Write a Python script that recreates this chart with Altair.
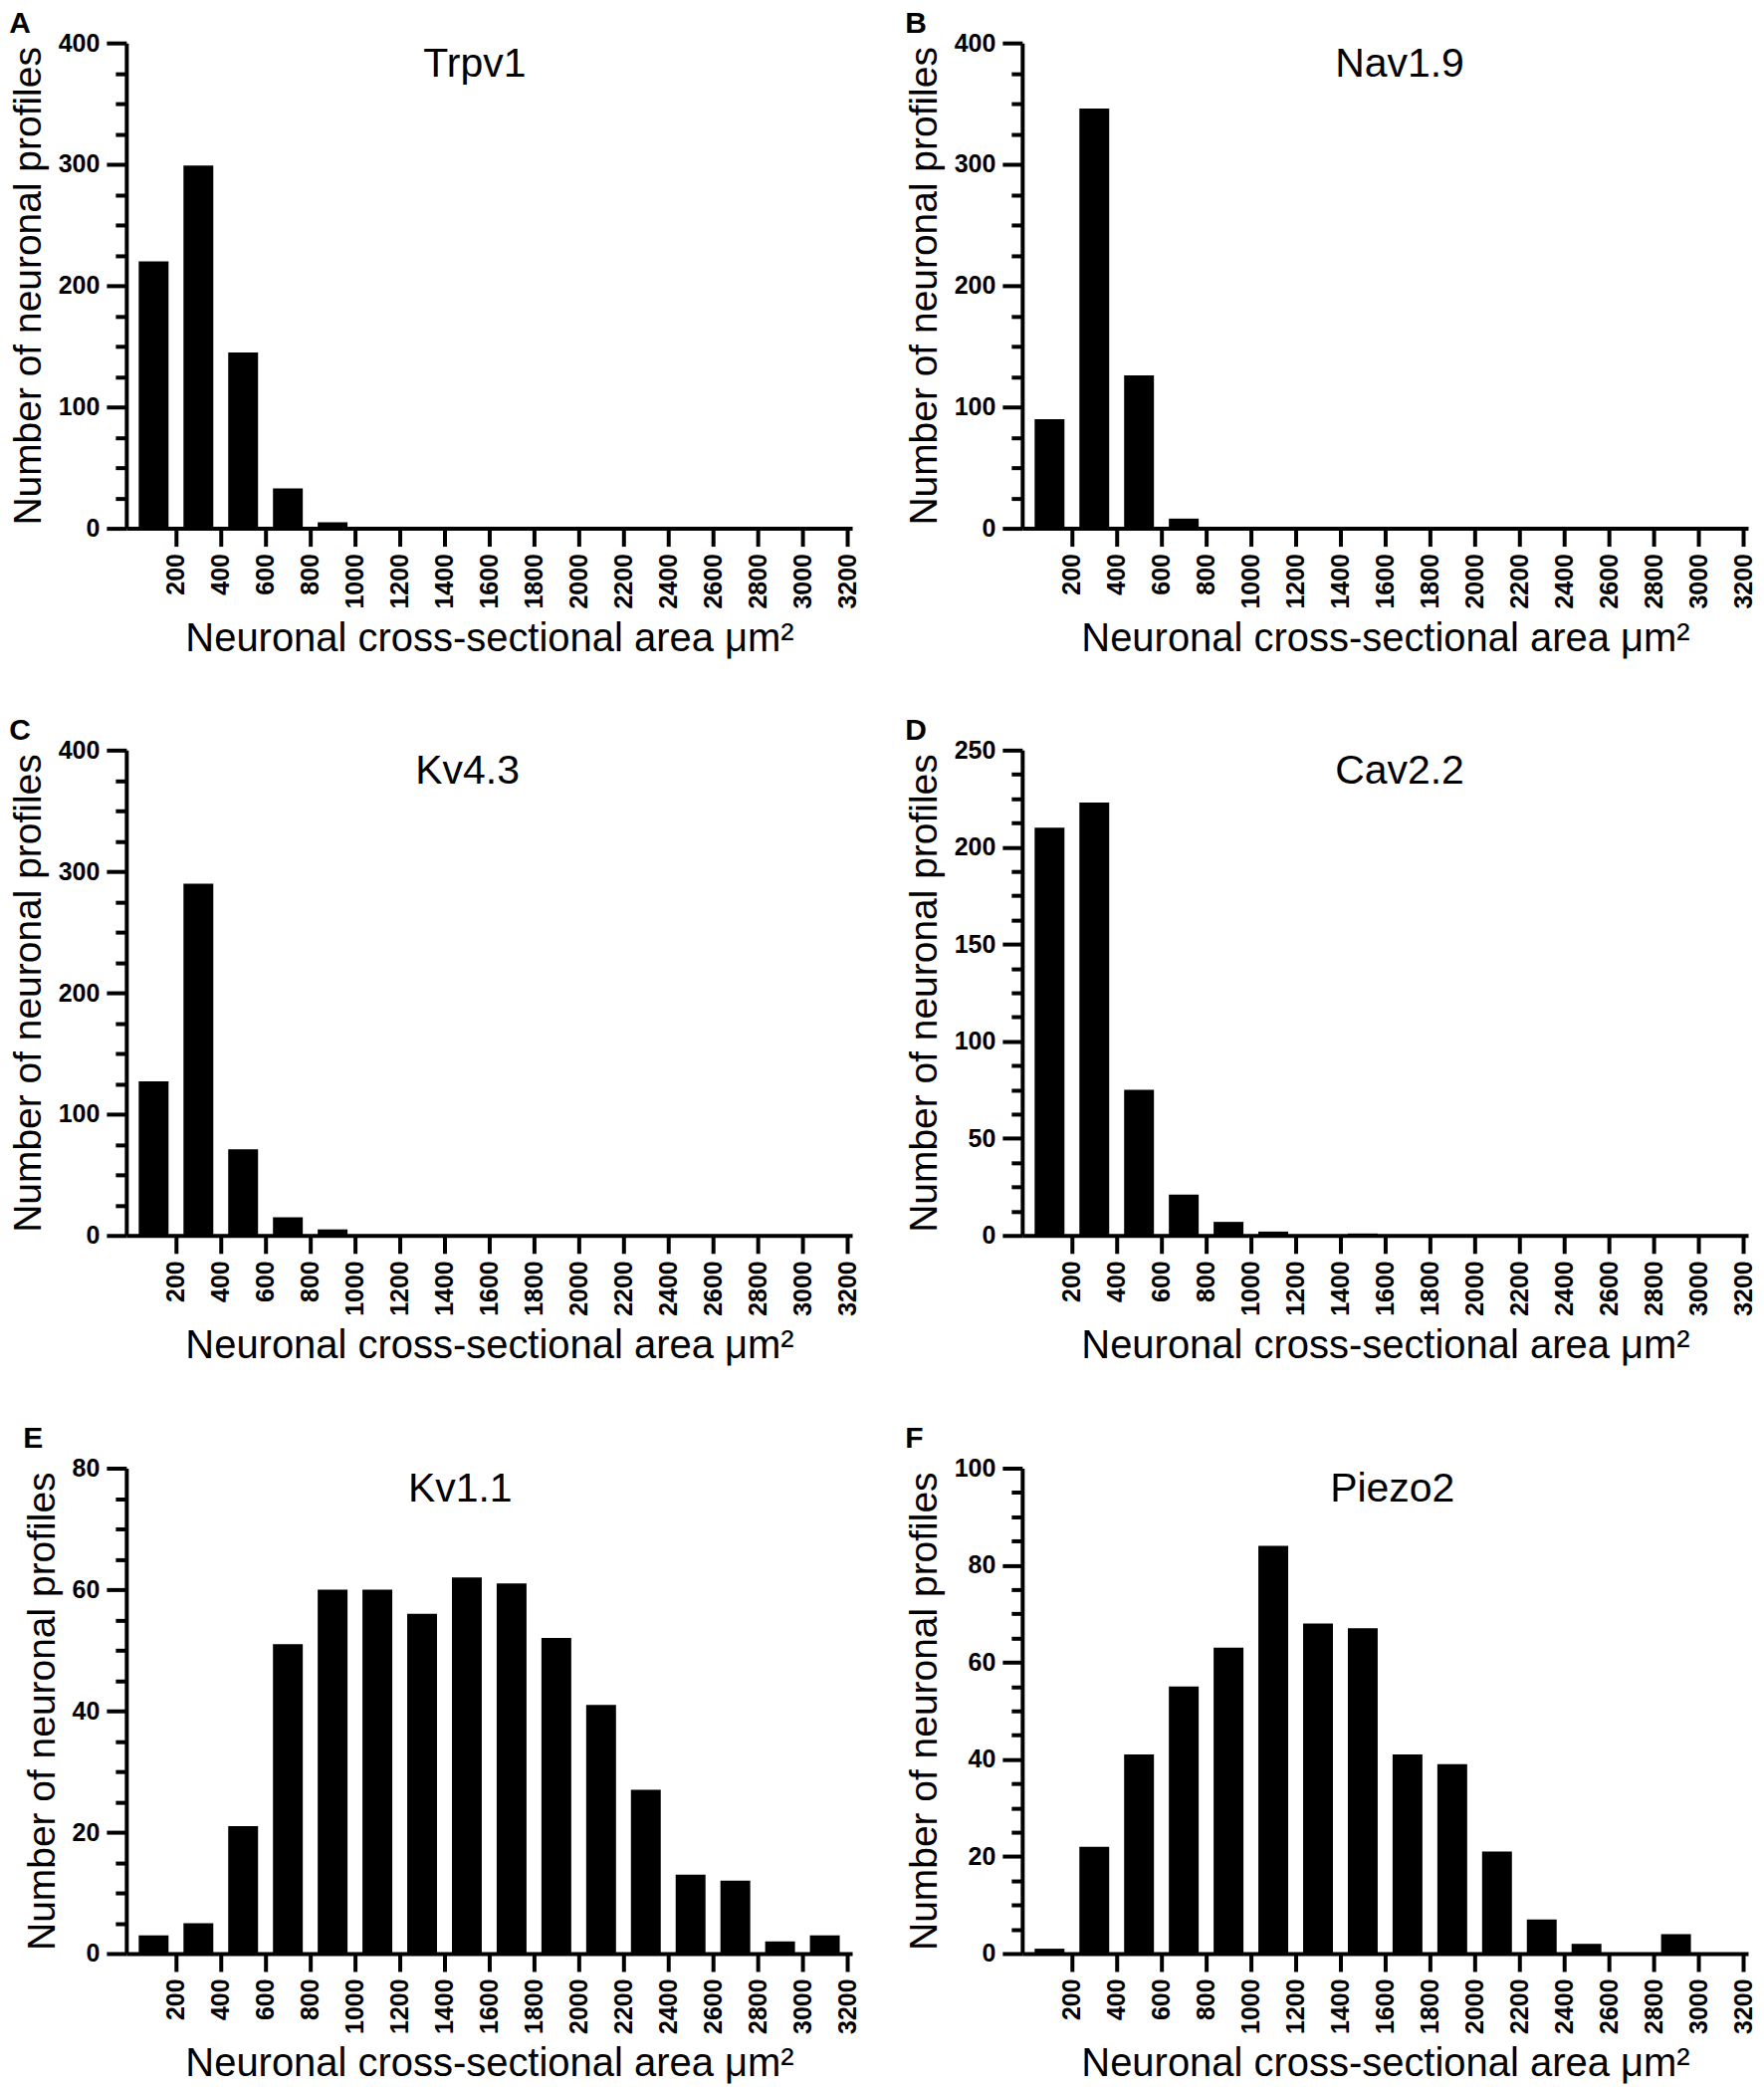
import altair as alt
import pandas as pd

# ---------------- data ----------------
BIN_LO = [0, 200, 400, 600, 800, 1000, 1200, 1400, 1600, 1800, 2000, 2200, 2400, 2600, 2800, 3000]
BIN_HI = [200, 400, 600, 800, 1000, 1200, 1400, 1600, 1800, 2000, 2200, 2400, 2600, 2800, 3000, 3200]
X_TICKS = [200, 400, 600, 800, 1000, 1200, 1400, 1600, 1800, 2000, 2200, 2400, 2600, 2800, 3000, 3200]

TRPV1 = [220, 299, 145, 33, 5, 0, 0, 0, 0, 0, 0, 0, 0, 0, 0, 0]
NAV19 = [90, 346, 126, 8, 0, 0, 0, 0, 0, 0, 0, 0, 0, 0, 0, 0]
KV43 = [127, 290, 71, 15, 5, 0, 0, 0, 0, 0, 0, 0, 0, 0, 0, 0]
CAV22 = [210, 223, 75, 21, 7, 2, 0, 1, 0, 0, 0, 0, 0, 0, 0, 0]
KV11 = [3, 5, 21, 51, 60, 60, 56, 62, 61, 52, 41, 27, 13, 12, 2, 3]
PIEZO2 = [1, 22, 41, 55, 63, 84, 68, 67, 41, 39, 21, 7, 2, 0, 4, 0]

LETTERS = ["A", "B", "C", "D", "E", "F"]
NAMES = ["Trpv1", "Nav1.9", "Kv4.3", "Cav2.2", "Kv1.1", "Piezo2"]
SERIES = [TRPV1, NAV19, KV43, CAV22, KV11, PIEZO2]
Y_MAX = [400, 400, 400, 250, 80, 100]
Y_MAJOR = [100, 100, 100, 50, 20, 20]
Y_MINOR = [25, 25, 25, 12.5, 5, 5]
NAME_POS = [0.48, 0.52, 0.47, 0.52, 0.46, 0.51]
LETTER_OFFSET = [-8, -8, -8, -8, 3, 3]

X_TITLE = "Neuronal cross-sectional area \u03bcm\u00b2"
Y_TITLE = "Number of neuronal profiles"

W = 730
H = 488
FONT = "Liberation Sans"


def panel(letter, name, counts, ymax, major, minor, npos, loff):
    df = pd.DataFrame({"lo": BIN_LO, "hi": BIN_HI, "count": counts})
    n = int(round(ymax / minor))
    yvals = [minor * i for i in range(n + 1)]
    bars = (
        alt.Chart(df)
        .transform_calculate(mid="(datum.lo + datum.hi) / 2")
        .mark_bar(color="black", size=30)
        .encode(
            x=alt.X(
                "mid:Q",
                scale=alt.Scale(domain=[0, 3200], nice=False, zero=True),
                axis=alt.Axis(
                    values=X_TICKS,
                    title=X_TITLE,
                    labelAngle=270,
                    tickSize=18,
                    labelPadding=7,
                    titlePadding=10,
                    labelOverlap=False,
                    labelFlush=False,
                    format="d",
                ),
            ),
            y=alt.Y(
                "count:Q",
                scale=alt.Scale(domain=[0, ymax], nice=False),
                axis=alt.Axis(
                    values=yvals,
                    title=Y_TITLE,
                    titleFontSize=39,
                    labelExpr=f"datum.value % {major} === 0 ? format(datum.value, 'd') : ''",
                    tickSize={"condition": {"test": f"datum.value % {major} === 0", "value": 20}, "value": 11},
                    labelPadding=7,
                    titlePadding=10,
                    labelOverlap=False,
                    labelFlush=False,
                ),
            ),
        )
    )
    label = (
        alt.Chart(pd.DataFrame({"t": [name]}))
        .mark_text(font=FONT, fontSize=41, color="black", baseline="alphabetic", align="center")
        .encode(text="t:N", x=alt.value(W * npos), y=alt.value(34))
    )
    return alt.layer(bars, label).properties(
        width=W,
        height=H,
        title=alt.TitleParams(
            letter,
            anchor="start",
            frame="bounds",
            fontSize=30,
            fontWeight="bold",
            font=FONT,
            color="black",
            offset=loff,
        ),
    )


panels = [
    panel(LETTERS[i], NAMES[i], SERIES[i], Y_MAX[i], Y_MAJOR[i], Y_MINOR[i], NAME_POS[i], LETTER_OFFSET[i])
    for i in range(6)
]

chart = (
    alt.concat(*panels, columns=2, spacing=alt.RowColnumber(row=58, column=45))
    .properties(padding={"left": 1, "top": 0, "right": 0, "bottom": 0})
    .configure_view(stroke=None)
    .configure_axis(
        grid=False,
        domainColor="black",
        domainWidth=4,
        tickColor="black",
        tickWidth=4,
        labelFont=FONT,
        labelFontWeight="bold",
        labelFontSize=25,
        labelColor="black",
        titleFont=FONT,
        titleFontSize=40,
        titleFontWeight="normal",
        titleColor="black",
    )
)

chart.save("out.html", embed_options={"renderer": "svg", "actions": False})
